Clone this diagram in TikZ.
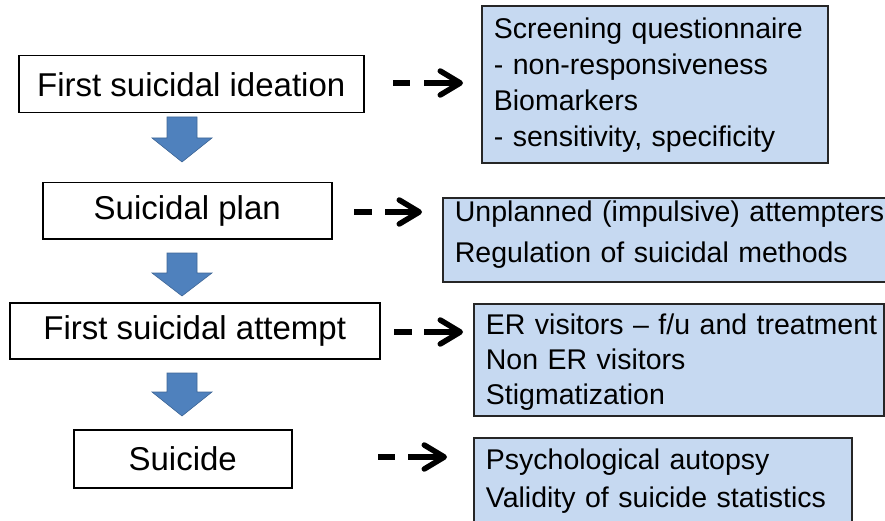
\documentclass[tikz,border=0pt]{standalone}
\usepackage{fontspec}
\setmainfont{Liberation Sans}
\usetikzlibrary{arrows.meta}
\definecolor{boxblue}{HTML}{C6D9F1}
\definecolor{arrowblue}{HTML}{4F81BD}
\begin{document}
\begin{tikzpicture}[x=1pt,y=-1pt,
  stage/.style={draw=black, line width=1.5pt, fill=white,
    font=\fontsize{33}{40}\selectfont, inner sep=0pt, anchor=north west},
  note/.style={draw=black!85, line width=1.8pt, fill=boxblue,
    align=left, anchor=north west, inner ysep=0pt, inner xsep=12pt},
  downarrow/.style={fill=arrowblue, draw=arrowblue!80!black, line width=0.6pt},
  dashpart/.style={line width=5.5pt},
  arrowpart/.style={line width=5.5pt,
    -{Straight Barb[length=20pt,width=24pt,line cap=round,line join=round]}}
]
\clip (0,0) rectangle (885,521);
\fill[white] (0,0) rectangle (885,521);

% stages
\node[stage, minimum width=345pt, minimum height=57pt] (s1) at (18,55) {First suicidal ideation};
\node[stage, minimum width=289pt, minimum height=56pt] (s2) at (42,182) {Suicidal plan};
\node[stage, minimum width=370pt, minimum height=56pt] (s3) at (9,302) {First suicidal attempt};
\node[stage, minimum width=218pt, minimum height=58pt] (s4) at (73,429) {Suicide};

% notes
\node[note, font=\fontsize{28.5}{36}\selectfont, text width=322pt,
      text height=32.4pt, text depth=124.6pt] (n1) at (481,5)
  {\mbox{Screening questionnaire}\\\mbox{- non-responsiveness}\\Biomarkers\\\mbox{- sensitivity, specificity}};
\node[note, font=\fontsize{28.5}{41}\selectfont, text width=436pt,
      text height=23.4pt, text depth=60.6pt] (n2) at (442,197)
  {\mbox{Unplanned (impulsive) attempters}\\\mbox{Regulation of suicidal methods}};
\node[note, font=\fontsize{28.5}{35}\selectfont, text width=386pt,
      text height=30.4pt, text depth=81.6pt] (n3) at (473,303)
  {\mbox{ER visitors – f/u and treatment}\\\mbox{Non ER visitors}\\Stigmatization};
\node[note, font=\fontsize{28.5}{38}\selectfont, text width=354pt,
      text height=31.4pt, text depth=71.6pt] (n4) at (473,437)
  {\mbox{Psychological autopsy}\\\mbox{Validity of suicide statistics}};

% block arrows between stages
\foreach \t/\h/\p in {117/138/162, 253/273/296, 373/392/416}
  \draw[downarrow] (167,\t) -- (197,\t) -- (197,\h) -- (212,\h) -- (182,\p)
    -- (152,\h) -- (167,\h) -- cycle;

% dashed arrows
\coordinate (a1s) at (393,83);  \coordinate (a1m) at (410,83);
\coordinate (a1t) at (424,83);  \coordinate (a1e) at (463,83);
\coordinate (a2s) at (354,212); \coordinate (a2m) at (372,212);
\coordinate (a2t) at (385,212); \coordinate (a2e) at (422,212);
\coordinate (a3s) at (394,332); \coordinate (a3m) at (412,332);
\coordinate (a3t) at (424,332); \coordinate (a3e) at (463,332);
\coordinate (a4s) at (378,457); \coordinate (a4m) at (395,457);
\coordinate (a4t) at (408,457); \coordinate (a4e) at (447,457);
\foreach \i in {1,2,3,4} {
  \draw[dashpart] (a\i s) -- (a\i m);
  \draw[arrowpart] (a\i t) -- (a\i e);
}
\end{tikzpicture}
\end{document}
